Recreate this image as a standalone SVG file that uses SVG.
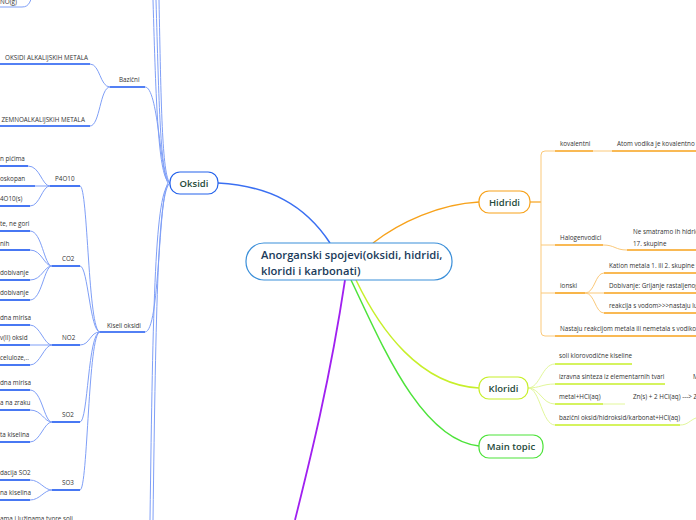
<svg xmlns="http://www.w3.org/2000/svg" width="696" height="520" viewBox="0 0 696 520">
<style>
text{font-family:"Open Sans","Noto Sans",sans-serif;font-size:6.3px;fill:#333}
.nt{font-size:9.5px;font-weight:600;fill:#1f4a3a}
.ct{font-size:11.2px;font-weight:600;fill:#1a3a5a}
.bl{fill:none;stroke:#1a56f0;stroke-width:1.6}
.bc{fill:none;stroke:#7f9ff7;stroke-width:1}
.ol{fill:none;stroke:#f7a21b;stroke-width:1.6}
.oc{fill:none;stroke:#fbc97a;stroke-width:1}
.yl{fill:none;stroke:#c7ef2a;stroke-width:1.6}
.yc{fill:none;stroke:#e2f79a;stroke-width:1}
</style>
<g id="connectors">
<path d="M218,183 C270,186 305,205 330,243" fill="none" stroke="#3a6ff2" stroke-width="1.5"/>
<path d="M373,243 C400,222 440,204 479,202" fill="none" stroke="#f7a21b" stroke-width="1.5"/>
<path d="M356,280 C380,330 420,385 479,388" fill="none" stroke="#c7ef2a" stroke-width="1.5"/>
<path d="M351,280 C380,340 420,440 479,446" fill="none" stroke="#4de33a" stroke-width="1.5"/>
<path d="M345,280 C330,380 310,460 295,520" fill="none" stroke="#a020f0" stroke-width="1.8"/>
<path class="bc" d="M170,183 C158,180 156,100 153,0"/>
<path class="bc" d="M170,183 C160,178 159,100 156,0"/>
<path class="bc" d="M170,183 C162,176 161,100 159,0"/>
<path class="bc" d="M170,183 C155,190 153,300 150,520"/>
<path class="bc" d="M170,183 C158,192 156,300 153,520"/>
<path class="bc" d="M145,87 C158,87 160,170 168,183"/>
<path class="bc" d="M145,332 C160,332 158,200 168,183"/>
<path class="bc" d="M0,7 L22,7 C30,7 30,0 33,-5"/>
<path class="bc" d="M90,64 C100,64 100,87 110,87"/>
<path class="bc" d="M90,126 C100,126 100,87 110,87"/>
<path class="bc" d="M80,186 C88,186 88,332 100,332"/>
<path class="bc" d="M80,266 C88,266 90,332 100,332"/>
<path class="bc" d="M80,345 C90,345 90,332 100,332"/>
<path class="bc" d="M80,422 C88,422 88,332 100,332"/>
<path class="bc" d="M80,490 C88,490 88,332 100,332"/>
<path class="bc" d="M28,166 C40,166 42,186 50,186"/>
<path class="bc" d="M35,186 L50,186"/>
<path class="bc" d="M30,206 C40,206 42,186 50,186"/>
<path class="bc" d="M30,231 C42,231 44,266 52,266"/>
<path class="bc" d="M30,250 C42,250 44,266 52,266"/>
<path class="bc" d="M30,280 C42,280 44,266 52,266"/>
<path class="bc" d="M30,300 C42,300 44,266 52,266"/>
<path class="bc" d="M30,325 C40,325 44,345 52,345"/>
<path class="bc" d="M30,345 L52,345"/>
<path class="bc" d="M30,365 C40,365 44,345 52,345"/>
<path class="bc" d="M30,390 C42,390 44,422 52,422"/>
<path class="bc" d="M30,410 C42,410 44,422 52,422"/>
<path class="bc" d="M30,442 C40,442 44,422 52,422"/>
<path class="bc" d="M30,480 C40,480 44,490 52,490"/>
<path class="bc" d="M30,500 C40,500 44,490 52,490"/>
<g class="bl">
<path d="M0,64 L90,64"/><path d="M0,126 L90,126"/><path d="M110,87 L145,87"/>
<path d="M0,166 L28,166"/><path d="M0,186 L35,186"/><path d="M0,206 L30,206"/><path d="M50,186 L80,186"/>
<path d="M0,231 L30,231"/><path d="M0,250 L30,250"/><path d="M0,280 L30,280"/><path d="M0,300 L30,300"/><path d="M52,266 L80,266"/>
<path d="M100,332 L145,332"/>
<path d="M0,325 L30,325"/><path d="M0,345 L30,345"/><path d="M0,365 L30,365"/><path d="M52,345 L80,345"/>
<path d="M0,390 L30,390"/><path d="M0,410 L30,410"/><path d="M0,442 L30,442"/><path d="M52,422 L80,422"/>
<path d="M0,480 L30,480"/><path d="M0,500 L30,500"/><path d="M52,490 L80,490"/>
</g>
<path d="M530,202 L541,202" fill="none" stroke="#f7a21b" stroke-width="1.2"/>
<path class="oc" d="M555,151 L545,151 Q541,151 541,155 L541,332 Q541,336 545,336 L555,336"/>
<path class="oc" d="M541,245 L555,245"/>
<path class="oc" d="M541,293 L555,293"/>
<path class="oc" d="M593,151 L612,151"/>
<path class="oc" d="M603,245 C615,245 615,250 627,250"/>
<path class="oc" d="M585,293 C595,293 595,273 604,273"/>
<path class="oc" d="M585,293 L604,293"/>
<path class="oc" d="M585,293 C595,293 595,313 604,313"/>
<g class="ol">
<path d="M555,151 L593,151"/><path d="M612,151 L696,151"/><path d="M555,245 L603,245"/><path d="M627,250 L696,250"/>
<path d="M555,293 L585,293"/><path d="M604,273 L696,273"/><path d="M604,293 L696,293"/><path d="M604,313 L696,313"/><path d="M555,336 L696,336"/>
</g>
<path class="yc" d="M528,388 C540,388 542,364 555,364"/>
<path class="yc" d="M528,388 C540,388 542,384 555,384"/>
<path class="yc" d="M528,388 C540,388 542,404 555,404"/>
<path class="yc" d="M528,388 C540,388 542,425 555,425"/>
<path class="yc" d="M603,404 L625,404"/>
<path class="yc" d="M680,425 C688,425 690,420 696,418"/>
<g class="yl">
<path d="M555,364 L632,364"/><path d="M555,384 L665,384"/><path d="M555,404 L603,404"/><path d="M555,425 L680,425"/>
</g>
</g>
<g id="center"><rect x="246" y="243" width="206" height="37" rx="18" fill="#fff" stroke="#3b8fd9" stroke-width="1.2"/>
<text class="ct" x="261" y="259">Anorganski spojevi(oksidi, hidridi,</text><text class="ct" x="261" y="275">kloridi i karbonati)</text></g>
<g id="oksidi"><rect x="170" y="172" width="48" height="22" rx="10" fill="#fff" stroke="#2563eb" stroke-width="1.2"/><text class="nt" x="194" y="186.5" text-anchor="middle">Oksidi</text></g>
<g id="hidridi"><rect x="479" y="191" width="51" height="22" rx="10" fill="#fff" stroke="#f7a21b" stroke-width="1.2"/><text class="nt" x="504.5" y="205.5" text-anchor="middle">Hidridi</text></g>
<g id="kloridi"><rect x="479" y="377" width="49" height="22" rx="10" fill="#fff" stroke="#c7ef2a" stroke-width="1.2"/><text class="nt" x="503.5" y="391.5" text-anchor="middle">Kloridi</text></g>
<g id="main"><rect x="479" y="435" width="64" height="23" rx="10" fill="#fff" stroke="#4de33a" stroke-width="1.2"/><text class="nt" x="511" y="450" text-anchor="middle">Main topic</text></g>
<g id="labels">
<text x="0" y="4">NO(g)</text>
<text x="5" y="60">OKSIDI ALKALIJSKIH METALA</text>
<text x="119" y="82">Bazični</text>
<text x="-2" y="122">I ZEMNOALKALIJSKIH METALA</text>
<text x="0" y="161">n pićima</text>
<text x="0" y="181">oskopan</text>
<text x="0" y="201">4O10(s)</text>
<text x="55" y="181">P4O10</text>
<text x="0" y="226">te, ne gori</text>
<text x="0" y="246">nih</text>
<text x="62" y="261">CO2</text>
<text x="0" y="275">dobivanje</text>
<text x="0" y="295">dobivanje</text>
<text x="107" y="328">Kiseli oksidi</text>
<text x="0" y="320">dna mirisa</text>
<text x="0" y="340">v(II) oksid</text>
<text x="62" y="340">NO2</text>
<text x="0" y="360">celuloze,..</text>
<text x="0" y="385">dna mirisa</text>
<text x="0" y="405">a na zraku</text>
<text x="62" y="417">SO2</text>
<text x="0" y="437">ta kiselina</text>
<text x="0" y="475">dacija SO2</text>
<text x="62" y="485">SO3</text>
<text x="0" y="495">na kiselina</text>
<text x="0" y="521">ama i lužinama tvore soli</text>
<text x="560" y="146">kovalentni</text>
<text x="617" y="146">Atom vodika je kovalentno vezan</text>
<text x="560" y="240">Halogenvodici</text>
<text x="633" y="234">Ne smatramo ih hidridima</text>
<text x="633" y="246">17. skupine</text>
<text x="560" y="288">ionski</text>
<text x="609" y="268">Kation metala 1. ili 2. skupine vezan</text>
<text x="609" y="288">Dobivanje: Grijanje rastaljenog metala</text>
<text x="609" y="308">reakcija s vodom&gt;&gt;&gt;nastaju lužine</text>
<text x="560" y="331">Nastaju reakcijom metala ili nemetala s vodikom</text>
<text x="559" y="358">soli klorovodične kiseline</text>
<text x="559" y="379">izravna sinteza iz elementarnih tvari</text>
<text x="693" y="379">M</text>
<text x="559" y="399">metal+HCl(aq)</text>
<text x="633" y="399">Zn(s) + 2 HCl(aq) ---&gt; ZnCl2</text>
<text x="559" y="420">bazični oksid/hidroksid/karbonat+HCl(aq)</text>
</g>
</svg>
